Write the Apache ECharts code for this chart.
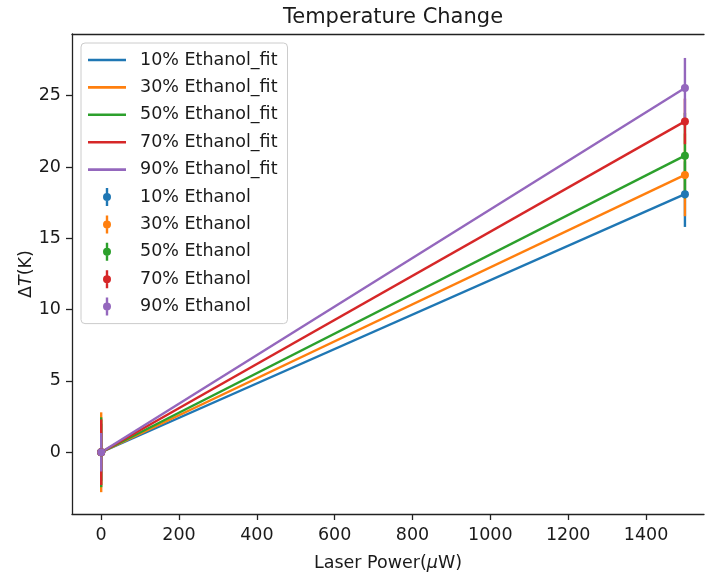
<!DOCTYPE html>
<html>
<head>
<meta charset="utf-8">
<script src="https://cdn.jsdelivr.net/npm/echarts@6/dist/echarts.min.js"></script>
<style>
  html, body { margin: 0; padding: 0; background: #fff; }
  #chart { width: 705px; height: 573px; }
</style>
</head>
<body>
<div id="chart"></div>
<script>
// Laser power levels (µW)
const powerLevels = [0, 1500];

// Measured temperature rise ΔT (K) at each power level
const dT10 = [0, 18.1];
const dT30 = [0, 19.45];
const dT50 = [0, 20.8];
const dT70 = [0, 23.2];
const dT90 = [0, 25.55];

// Error bar half-widths (K)
const err10 = [2.0, 2.3];
const err30 = [2.8, 2.9];
const err50 = [2.45, 3.0];
const err70 = [2.3, 1.6];
const err90 = [1.35, 2.1];

// Linear fits through the origin, evaluated at the power levels
const fit10 = [0, 18.1];
const fit30 = [0, 19.45];
const fit50 = [0, 20.8];
const fit70 = [0, 23.2];
const fit90 = [0, 25.55];

const xTicks = [0, 200, 400, 600, 800, 1000, 1200, 1400];
const yTicks = [0, 5, 10, 15, 20, 25];

const groups = [
  { label: '10% Ethanol', color: '#1f77b4', dT: dT10, err: err10, fit: fit10 },
  { label: '30% Ethanol', color: '#ff7f0e', dT: dT30, err: err30, fit: fit30 },
  { label: '50% Ethanol', color: '#2ca02c', dT: dT50, err: err50, fit: fit50 },
  { label: '70% Ethanol', color: '#d62728', dT: dT70, err: err70, fit: fit70 },
  { label: '90% Ethanol', color: '#9467bd', dT: dT90, err: err90, fit: fit90 }
];

const FONT = 'DejaVu Sans';
const TEXT = '#1a1a1a';
const FRAME = { color: '#222', width: 1.3 };
const lineIcon = 'path://M0,0 L38,0 L38,2.6 L0,2.6 Z';
const barIcon = 'path://M-1.2,-9 L1.2,-9 L1.2,9 L-1.2,9 Z M4,0 A4,4 0 1 1 -4,0 A4,4 0 1 1 4,0 Z';

const series = [];

// Error bars first so every marker and fit line sits above them
groups.forEach(g => {
  series.push({
    name: g.label,
    type: 'custom',
    z: 1,
    data: powerLevels.map((p, i) => [p, g.dT[i], g.err[i]]),
    renderItem: (params, api) => {
      const x = api.value(0), y = api.value(1), e = api.value(2);
      const top = api.coord([x, y + e]);
      const bot = api.coord([x, y - e]);
      return {
        type: 'line',
        shape: { x1: top[0], y1: top[1], x2: bot[0], y2: bot[1] },
        style: { stroke: g.color, lineWidth: 2.4 }
      };
    },
    itemStyle: { color: g.color },
    silent: true
  });
});

groups.forEach(g => {
  series.push({
    name: g.label + '_fit',
    type: 'line',
    z: 2,
    data: powerLevels.map((p, i) => [p, g.fit[i]]),
    showSymbol: false,
    symbol: 'none',
    lineStyle: { color: g.color, width: 2.4 },
    itemStyle: { color: g.color }
  });
});

groups.forEach(g => {
  series.push({
    name: g.label,
    type: 'scatter',
    z: 3,
    data: powerLevels.map((p, i) => [p, g.dT[i]]),
    symbol: 'circle',
    symbolSize: 8,
    itemStyle: { color: g.color, opacity: 1 }
  });
});

const legendData = groups.map(g => ({ name: g.label + '_fit', icon: lineIcon }))
  .concat(groups.map(g => ({ name: g.label, icon: barIcon })));

const nameRich = {
  n: { fontFamily: FONT, fontSize: 17.5, color: TEXT },
  i: { fontFamily: FONT, fontSize: 17.5, color: TEXT, fontStyle: 'italic' }
};

// Plot area runs past the right edge of the page, so the x range is cut at 1549
const X_MIN = -75, X_MAX = 1549;

const chart = echarts.init(document.getElementById('chart'), null, { renderer: 'canvas' });
chart.setOption({
  animation: false,
  backgroundColor: '#ffffff',
  title: {
    text: 'Temperature Change',
    left: 393,
    top: 7,
    padding: 0,
    textAlign: 'center',
    textStyle: { fontFamily: FONT, fontSize: 21, fontWeight: 'normal', color: TEXT }
  },
  grid: {
    left: 72,
    top: 34,
    right: 1,
    height: 480,
    show: false,
    containLabel: false,
    outerBoundsMode: 'none'
  },
  legend: {
    orient: 'vertical',
    left: 81,
    top: 43,
    padding: [8, 10, 8, 7],
    itemWidth: 38,
    itemHeight: 18,
    itemGap: 9.4,
    symbolKeepAspect: true,
    backgroundColor: 'rgba(255,255,255,0.85)',
    borderColor: '#cccccc',
    borderWidth: 1,
    borderRadius: 4,
    textStyle: { fontFamily: FONT, fontSize: 17.5, color: TEXT, lineHeight: 18, padding: [0, 0, 0, 9] },
    data: legendData,
    selectedMode: false
  },
  xAxis: [{
    type: 'value',
    min: X_MIN,
    max: X_MAX,
    name: '{n|Laser Power(}{i|μ}{n|W)}',
    nameLocation: 'middle',
    nameGap: 40,
    nameMoveOverlap: false,
    nameTextStyle: { rich: nameRich },
    axisLine: { show: true, onZero: false, lineStyle: FRAME },
    axisTick: { show: true, length: 6, customValues: xTicks, lineStyle: FRAME },
    axisLabel: {
      customValues: xTicks, margin: 12, fontFamily: FONT, fontSize: 17.5, color: TEXT,
      formatter: v => String(v)
    },
    splitLine: { show: false }
  }, {
    // top edge of the frame
    type: 'value',
    position: 'top',
    min: X_MIN,
    max: X_MAX,
    axisLine: { show: true, onZero: false, lineStyle: FRAME },
    axisTick: { show: false },
    axisLabel: { show: false },
    splitLine: { show: false }
  }],
  yAxis: {
    type: 'value',
    min: -4.33,
    max: 29.33,
    name: '{n|Δ}{i|T}{n|(K)}',
    nameLocation: 'middle',
    nameGap: 37,
    nameMoveOverlap: false,
    nameRotate: 90,
    nameTextStyle: { rich: nameRich },
    axisLine: { show: true, onZero: false, lineStyle: FRAME },
    axisTick: { show: true, length: 6, customValues: yTicks, lineStyle: FRAME },
    axisLabel: {
      customValues: yTicks, margin: 11, fontFamily: FONT, fontSize: 17.5, color: TEXT,
      formatter: v => String(v)
    },
    splitLine: { show: false }
  },
  series: series
});
</script>
</body>
</html>
